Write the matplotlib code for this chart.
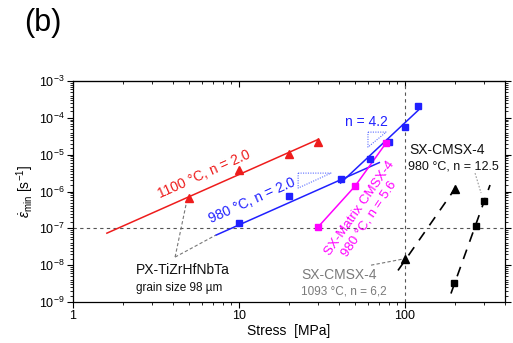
import matplotlib
matplotlib.use("Agg")
import matplotlib.pyplot as plt
from matplotlib.ticker import LogLocator, NullFormatter

plt.rcParams['font.family'] = ['Liberation Sans', 'DejaVu Sans']
plt.rcParams['mathtext.fontset'] = 'custom'
plt.rcParams['mathtext.rm'] = 'Liberation Sans'
plt.rcParams['mathtext.it'] = 'Liberation Sans:italic'

# --- data ---
red_x = [5, 10, 20, 30]
red_y = [6.6e-7, 3.8e-6, 1.04e-5, 2.2e-5]
red_fit_x = [1.6, 30]
red_fit_y = [7.4e-8, 2.6e-5]

blue_x = [10, 20, 41, 61.5, 80, 100, 120]
blue_y = [1.4e-7, 7.5e-7, 2.2e-6, 7.6e-6, 2.2e-5, 5.6e-5, 2.1e-4]
blue_fit1_x = [7.3, 70]
blue_fit1_y = [6.6e-8, 6.1e-6]
blue_fit2_x = [40.9, 120]
blue_fit2_y = [1.7e-6, 1.6e-4]

mag_x = [30, 50, 77]
mag_y = [1.1e-7, 1.4e-6, 2.1e-5]

blk_tri_x = [100, 200]
blk_tri_y = [1.45e-8, 1.2e-6]
blk_tri_fit_x = [90.7, 200]
blk_tri_fit_y = [7.2e-9, 1.2e-6]

blk_sq_x = [197, 268, 299]
blk_sq_y = [3.2e-9, 1.15e-7, 5.5e-7]
blk_sq_fit_x = [189, 325]
blk_sq_fit_y = [1.7e-9, 1.5e-6]

x_ticks = [1, 10, 100]
x_ticklabels = ['1', '10', '100']
y_ticks = [1e-9, 1e-8, 1e-7, 1e-6, 1e-5, 1e-4, 1e-3]
y_ticklabels = [r'10$^{-9}$', r'10$^{-8}$', r'10$^{-7}$', r'10$^{-6}$',
                r'10$^{-5}$', r'10$^{-4}$', r'10$^{-3}$']

RED = '#ee1c1c'
BLUE = '#2020ff'
MAG = '#ff00ff'
GRAY = '#7a7a7a'

fig = plt.figure(figsize=(5.13, 3.43), dpi=100)
ax = fig.add_axes([0.1423, 0.1195, 0.8421, 0.6443])
ax.set_xscale('log')
ax.set_yscale('log')
ax.set_xlim(1, 400)
ax.set_ylim(1e-9, 1e-3)

# reference lines
ax.axhline(1e-7, color='#555555', ls=(0, (3, 3)), lw=0.8, zorder=1)
ax.axvline(100, color='#555555', ls=(0, (3, 3)), lw=0.8, zorder=1)

# fits
ax.plot(red_fit_x, red_fit_y, color=RED, lw=1.1, zorder=3)
ax.plot(blue_fit1_x, blue_fit1_y, color=BLUE, lw=1.1, zorder=3)
ax.plot(blue_fit2_x, blue_fit2_y, color=BLUE, lw=1.1, zorder=3)
ax.plot(mag_x, mag_y, color=MAG, lw=1.1, zorder=3)
ax.plot(blk_tri_fit_x, blk_tri_fit_y, color='black', lw=1.2, ls=(0, (6, 5)), zorder=3)
ax.plot(blk_sq_fit_x, blk_sq_fit_y, color='black', lw=1.2, ls=(0, (6, 5)), zorder=3)

# markers
ax.plot(red_x, red_y, '^', color=RED, ms=5.5, ls='none', zorder=4)
ax.plot(blue_x, blue_y, 's', color=BLUE, ms=4.5, ls='none', zorder=4)
ax.plot(mag_x, mag_y, 's', color=MAG, ms=4.5, ls='none', zorder=5)
ax.plot(blk_tri_x, blk_tri_y, '^', color='black', ms=5.5, ls='none', zorder=4)
ax.plot(blk_sq_x, blk_sq_y, 's', color='black', ms=5, ls='none', zorder=4)

# slope triangles
tri_style = dict(color='#5a6cff', lw=0.8, ls=(0, (1, 1.2)), zorder=2)
ax.plot([22.7, 35.8, 22.7, 22.7], [3.16e-6, 3.16e-6, 1.24e-6, 3.16e-6], **tri_style)
ax.plot([59.8, 76.9, 59.8, 59.8], [4.1e-5, 4.1e-5, 1.6e-5, 4.1e-5], **tri_style)

# leader lines
lead = dict(color='#777777', lw=0.8, ls=(0, (3, 2)), zorder=2)
ax.plot([4.12, 4.86], [1.66e-8, 5.9e-7], **lead)
ax.plot([4.12, 7.27], [1.66e-8, 6.6e-8], **lead)
ax.plot([62.4, 95.9], [1.0e-8, 1.45e-8], **lead)
lead2 = dict(color='#999999', lw=0.8, ls=(0, (1.5, 1.5)), zorder=2)
ax.plot([264, 287], [3.16e-6, 9.1e-7], **lead2)

# texts
ax.text(6.15, 2.97e-6, '1100 °C, n = 2.0', color=RED, fontsize=10, rotation=24,
        ha='center', va='center', rotation_mode='anchor')
ax.text(12.0, 5.5e-7, '980 °C, n = 2.0', color=BLUE, fontsize=10, rotation=24,
        ha='center', va='center', rotation_mode='anchor')
ax.text(58.2, 7.7e-5, 'n = 4.2', color=BLUE, fontsize=10, ha='center', va='center')
ax.text(53, 3.4e-7, 'SX-Matrix CMSX-4', color=MAG, fontsize=9.5, rotation=55,
        ha='center', va='center', rotation_mode='anchor')
ax.text(61, 1.85e-7, '980 °C, n = 5.6', color=MAG, fontsize=9.5, rotation=56,
        ha='center', va='center', rotation_mode='anchor')
ax.text(105.7, 1.33e-5, 'SX-CMSX-4', color='#111111', fontsize=10, ha='left', va='center')
ax.text(104, 4.9e-6, '980 °C, n = 12.5', color='#111111', fontsize=9, ha='left', va='center')
ax.text(2.40, 7.3e-9, 'PX-TiZrHfNbTa', color='#111111', fontsize=10, ha='left', va='center')
ax.text(2.40, 2.37e-9, 'grain size 98 µm', color='#111111', fontsize=8.5, ha='left', va='center')
ax.text(23.6, 5.4e-9, 'SX-CMSX-4', color=GRAY, fontsize=10, ha='left', va='center')
ax.text(23.6, 1.95e-9, '1093 °C, n = 6,2', color=GRAY, fontsize=8.5, ha='left', va='center')

# ticks
ax.set_xticks(x_ticks)
ax.set_xticklabels(x_ticklabels)
ax.set_yticks(y_ticks)
ax.set_yticklabels(y_ticklabels)
ax.xaxis.set_minor_locator(LogLocator(base=10, subs=range(2, 10), numticks=20))
ax.yaxis.set_minor_locator(LogLocator(base=10, subs=[1.5, 2, 2.5, 3, 3.5, 4, 5, 6, 7, 8, 9], numticks=20))
ax.xaxis.set_minor_formatter(NullFormatter())
ax.yaxis.set_minor_formatter(NullFormatter())
ax.tick_params(which='major', direction='out', length=4, width=0.8, labelsize=9,
               top=False, right=True, pad=2)
ax.tick_params(which='minor', direction='out', length=2.5, width=0.6, top=False, right=True)
sec = ax.secondary_xaxis('top')
sec.set_xticks(x_ticks)
sec.xaxis.set_minor_locator(LogLocator(base=10, subs=range(2, 10), numticks=20))
sec.tick_params(which='major', direction='in', length=4, width=0.8, labeltop=False)
sec.tick_params(which='minor', direction='in', length=2.5, width=0.6)
sec.set_xticklabels([])
sec.xaxis.set_minor_formatter(NullFormatter())
for s in ax.spines.values():
    s.set_linewidth(0.9)

ax.set_xlabel('Stress  [MPa]', fontsize=10, labelpad=1)
ax.set_ylabel(r'$\dot{\varepsilon}_{\mathrm{min}}$ [s$^{-1}$]', fontsize=10)
ax.yaxis.set_label_coords(-0.085, 0.5)

fig.text(0.047, 0.933, '(b)', fontsize=22, ha='left', va='center')

fig.savefig('out.png', dpi=100)
